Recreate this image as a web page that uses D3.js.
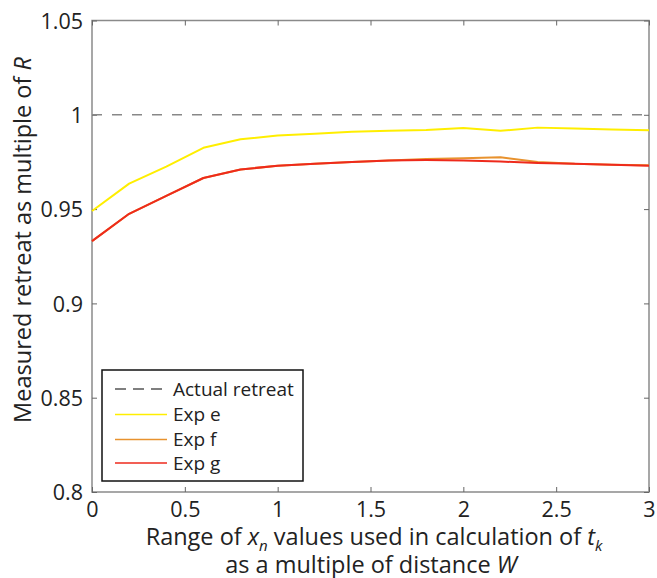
<!DOCTYPE html>
<html>
<head>
<meta charset="utf-8">
<script src="https://cdn.jsdelivr.net/npm/d3@7"></script>
<style>
  body { margin: 0; background: #fff; }
  svg { display: block; }
  text { font-family: "Open Sans", "DejaVu Sans", sans-serif; fill: #222; }
</style>
</head>
<body>
<svg id="chart" width="657" height="578"></svg>
<script>
// ---- data ----
const xValues = [0, 0.2, 0.4, 0.6, 0.8, 1.0, 1.2, 1.4, 1.6, 1.8, 2.0, 2.2, 2.4, 2.6, 2.8, 3.0];
const expE = [0.949, 0.9635, 0.9725, 0.9825, 0.987, 0.989, 0.990, 0.991, 0.9915, 0.992, 0.993, 0.9915, 0.9932, 0.9928, 0.9922, 0.9918];
const expF = [0.933, 0.9475, 0.957, 0.9665, 0.971, 0.973, 0.974, 0.975, 0.9758, 0.9765, 0.977, 0.9775, 0.975, 0.974, 0.9735, 0.9732];
const expG = [0.933, 0.9475, 0.957, 0.9665, 0.971, 0.973, 0.974, 0.975, 0.9758, 0.976, 0.9758, 0.9752, 0.9745, 0.974, 0.9735, 0.973];
const actualRetreat = 1;
const xTicks = [0, 0.5, 1, 1.5, 2, 2.5, 3];
const yTicks = [0.8, 0.85, 0.9, 0.95, 1, 1.05];
const yTickLabels = ["0.8", "0.85", "0.9", "0.95", "1", "1.05"];
const seriesNames = ["Exp e", "Exp f", "Exp g"];
const seriesColors = ["#ffee00", "#e8922e", "#ee2a1c"];

// ---- layout ----
const svg = d3.select("#chart");
const margin = { left: 92, right: 8, top: 20.5, bottom: 86 };
const W = 657, H = 578;
const x = d3.scaleLinear().domain([0, 3]).range([margin.left, W - margin.right]);
const y = d3.scaleLinear().domain([0.8, 1.05]).range([H - margin.bottom, margin.top]);

const axisColor = "#8a8a8a";
const tickLen = 5;

// frame
svg.append("rect")
  .attr("x", x(0)).attr("y", y(1.05))
  .attr("width", x(3) - x(0)).attr("height", y(0.8) - y(1.05))
  .attr("fill", "none").attr("stroke", axisColor).attr("stroke-width", 1.5);

// axes with inward ticks
const bottomAxis = d3.axisBottom(x).tickValues(xTicks).tickSize(-tickLen).tickPadding(0)
  .tickFormat(d3.format("~g"));
const gB = svg.append("g").attr("transform", `translate(0,${y(0.8)})`).call(bottomAxis);
const topAxis = d3.axisTop(x).tickValues(xTicks).tickSize(-tickLen).tickFormat("");
const gT = svg.append("g").attr("transform", `translate(0,${y(1.05)})`).call(topAxis);
const leftAxis = d3.axisLeft(y).tickValues(yTicks).tickSize(-tickLen).tickPadding(9)
  .tickFormat((d, i) => yTickLabels[i]);
const gL = svg.append("g").attr("transform", `translate(${x(0)},0)`).call(leftAxis);
const rightAxis = d3.axisRight(y).tickValues(yTicks).tickSize(-tickLen).tickFormat("");
const gR = svg.append("g").attr("transform", `translate(${x(3)},0)`).call(rightAxis);

[gB, gT, gL, gR].forEach(g => {
  g.select(".domain").remove();
  g.selectAll(".tick line").attr("stroke", "#666").attr("stroke-width", 1);
  g.selectAll(".tick text").attr("font-size", 21.5).attr("fill", "#222")
    .style("font-family", '"Open Sans", sans-serif');
});
gB.selectAll(".tick text").attr("y", 25).attr("dy", 0);
gL.selectAll(".tick text").attr("dy", "0.36em");

// dashed actual retreat line
svg.append("line")
  .attr("x1", x(0)).attr("x2", x(3))
  .attr("y1", y(actualRetreat)).attr("y2", y(actualRetreat))
  .attr("stroke", "#888").attr("stroke-width", 1.6).attr("stroke-dasharray", "10,10");

// series lines
const line = d3.line().x((d, i) => x(xValues[i])).y(d => y(d));
const seriesData = [expE, expF, expG];
seriesData.forEach((s, i) => {
  svg.append("path").datum(s)
    .attr("d", line)
    .attr("fill", "none")
    .attr("stroke", seriesColors[i])
    .attr("stroke-width", 2)
    .attr("stroke-linejoin", "round");
});

// legend
const lg = svg.append("g");
lg.append("rect")
  .attr("x", 102).attr("y", 370).attr("width", 201).attr("height", 111)
  .attr("fill", "#fff").attr("stroke", "#111").attr("stroke-width", 1.5);
const legendItems = [
  { name: "Actual retreat", color: "#555", dash: "11,7" },
  { name: seriesNames[0], color: seriesColors[0], dash: null },
  { name: seriesNames[1], color: seriesColors[1], dash: null },
  { name: seriesNames[2], color: seriesColors[2], dash: null }
];
const rowY = [389, 414.5, 439.5, 463];
legendItems.forEach((it, i) => {
  lg.append("line")
    .attr("x1", 115).attr("x2", 167).attr("y1", rowY[i]).attr("y2", rowY[i])
    .attr("stroke", it.color).attr("stroke-width", 1.6)
    .attr("stroke-dasharray", it.dash);
  lg.append("text")
    .attr("x", 173).attr("y", rowY[i]).attr("dy", "0.36em")
    .attr("font-size", 19).text(it.name);
});

// x axis label
const xl = svg.append("text").attr("x", 374).attr("y", 545).attr("text-anchor", "middle")
  .attr("font-size", 23.5);
xl.append("tspan").text("Range of ");
xl.append("tspan").attr("font-style", "italic").text("x");
xl.append("tspan").attr("font-style", "italic").attr("font-size", 15).attr("dy", 6).text("n");
xl.append("tspan").attr("dy", -6).text(" values used in calculation of ");
xl.append("tspan").attr("font-style", "italic").text("t");
xl.append("tspan").attr("font-style", "italic").attr("font-size", 15).attr("dy", 6).text("k");
const xl2 = svg.append("text").attr("x", 371).attr("y", 573).attr("text-anchor", "middle")
  .attr("font-size", 23.5);
xl2.append("tspan").text("as a multiple of distance ");
xl2.append("tspan").attr("font-style", "italic").text("W");

// y axis label
const yl = svg.append("text")
  .attr("transform", `translate(31,240) rotate(-90)`)
  .attr("text-anchor", "middle").attr("font-size", 23.5);
yl.append("tspan").text("Measured retreat as multiple of ");
yl.append("tspan").attr("font-style", "italic").text("R");
</script>
</body>
</html>
